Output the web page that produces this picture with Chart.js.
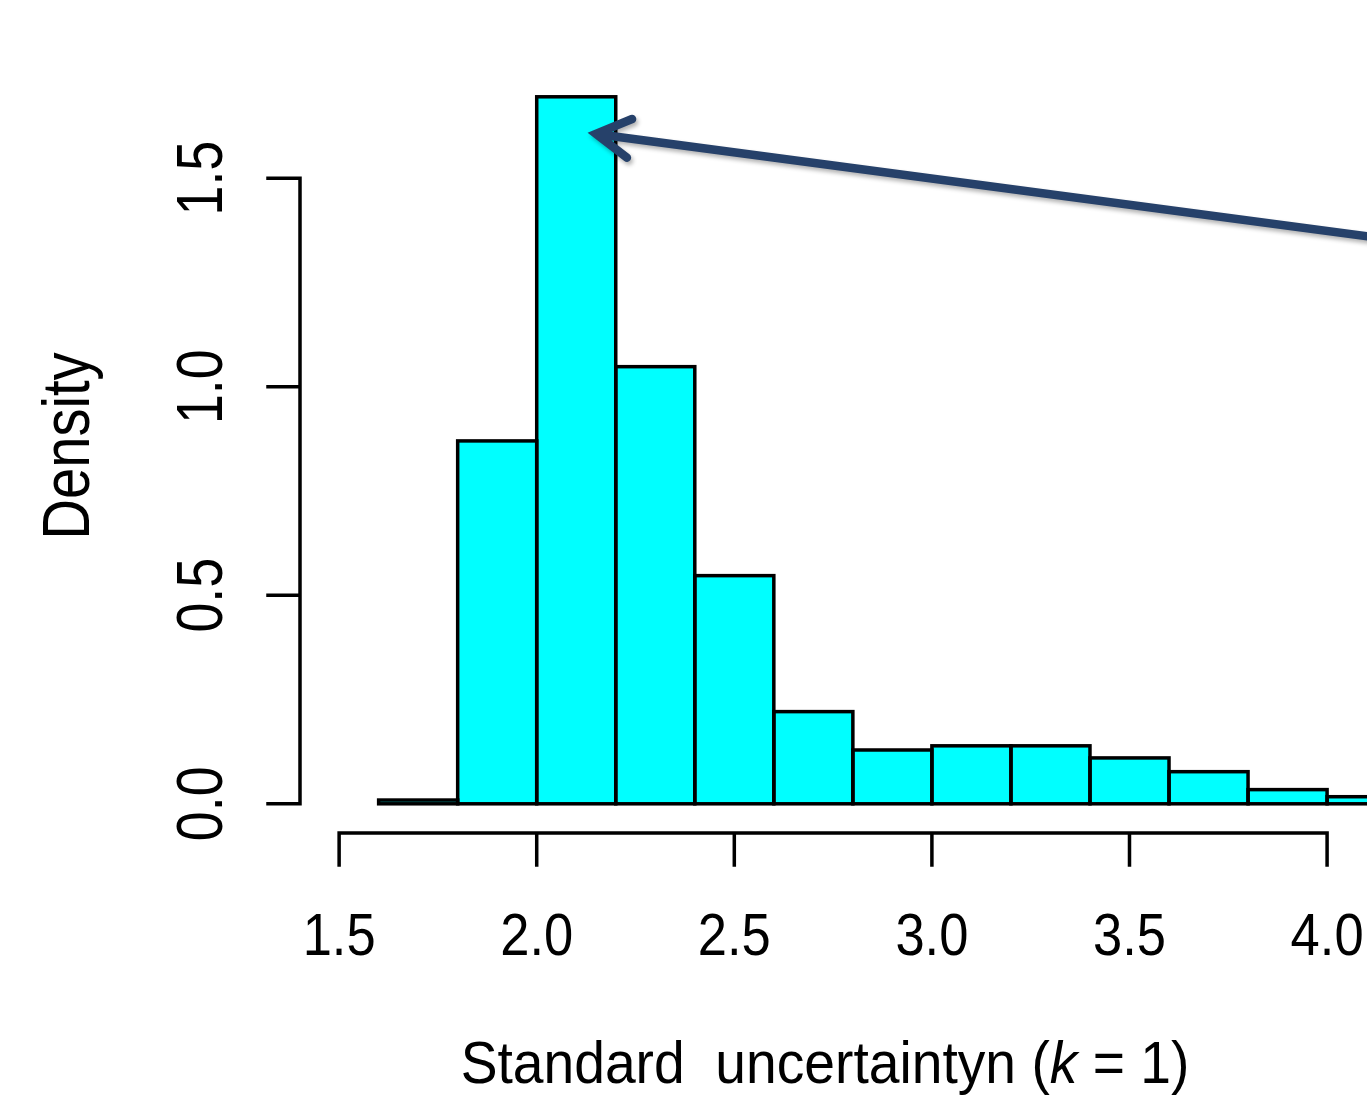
<!DOCTYPE html>
<html>
<head>
<meta charset="utf-8">
<title>Histogram</title>
<script src="https://cdn.jsdelivr.net/npm/chart.js@4.4.1/dist/chart.umd.min.js"></script>
<style>
  html, body { margin: 0; padding: 0; background: #fff; }
  canvas { display: block; }
</style>
</head>
<body>
<canvas id="myChart" width="1367" height="1100"></canvas>
<script>
// histogram break points and densities
var breaks = [1.6, 1.8, 2.0, 2.2, 2.4, 2.6, 2.8, 3.0, 3.2, 3.4, 3.6, 3.8, 4.0, 4.2];
var density = [0.009, 0.870, 1.695, 1.048, 0.547, 0.221, 0.129, 0.139, 0.139, 0.110, 0.077, 0.034, 0.017];

var xTicks = [1.5, 2.0, 2.5, 3.0, 3.5, 4.0];
var xTickLabels = ['1.5', '2.0', '2.5', '3.0', '3.5', '4.0'];
var yTicks = [0, 0.5, 1.0, 1.5];
var yTickLabels = ['0.0', '0.5', '1.0', '1.5'];

// x title pieces: normal, italic, normal
var xTitle = ['Standard  uncertaintyn (', 'k', ' = 1)'];
var yTitle = 'Density';

// arrow pointing at the tallest bar (data coordinates)
var arrowTail = [4.4, 1.323];
var arrowHead = [2.15, 1.606];

var bars = [];
for (var i = 0; i < density.length; i++) {
	bars.push({ x: (breaks[i] + breaks[i + 1]) / 2, y: density[i] });
}

var FONT = '"Liberation Sans", Arial, Helvetica, sans-serif';

// R style rectangle borders (centred strokes, shared edges)
var histOutline = {
	id: 'histOutline',
	afterDatasetsDraw: function(chart) {
		var ctx = chart.ctx;
		var meta = chart.getDatasetMeta(0);
		ctx.save();
		ctx.lineWidth = 3.5;
		ctx.strokeStyle = '#000';
		meta.data.forEach(function(el) {
			var p = el.getProps(['x', 'y', 'base', 'width'], true);
			ctx.strokeRect(p.x - p.width / 2, p.y, p.width, p.base - p.y);
		});
		ctx.restore();
	}
};

// axes, labels and the arrow, drawn the way R does it
var rAxes = {
	id: 'rAxes',
	afterDraw: function(chart) {
		var ctx = chart.ctx;
		var xs = chart.scales.x, ys = chart.scales.y;
		var area = chart.chartArea;
		ctx.save();
		ctx.strokeStyle = '#000';
		ctx.fillStyle = '#000';
		ctx.lineWidth = 3.5;
		ctx.lineCap = 'square';

		// x axis
		var ax = area.bottom;
		ctx.beginPath();
		ctx.moveTo(xs.getPixelForValue(xTicks[0]), ax);
		ctx.lineTo(xs.getPixelForValue(xTicks[xTicks.length - 1]), ax);
		xTicks.forEach(function(v) {
			var px = xs.getPixelForValue(v);
			ctx.moveTo(px, ax);
			ctx.lineTo(px, ax + 32);
		});
		ctx.stroke();

		ctx.font = '60px ' + FONT;
		ctx.textAlign = 'center';
		ctx.textBaseline = 'alphabetic';
		xTicks.forEach(function(v, i) {
			ctx.save();
			ctx.translate(xs.getPixelForValue(v), ax + 122);
			ctx.scale(0.875, 1);
			ctx.fillText(xTickLabels[i], 0, 0);
			ctx.restore();
		});

		// y axis
		var ay = area.left;
		ctx.beginPath();
		ctx.moveTo(ay, ys.getPixelForValue(yTicks[0]));
		ctx.lineTo(ay, ys.getPixelForValue(yTicks[yTicks.length - 1]));
		yTicks.forEach(function(v) {
			var py = ys.getPixelForValue(v);
			ctx.moveTo(ay, py);
			ctx.lineTo(ay - 32, py);
		});
		ctx.stroke();

		ctx.font = '64px ' + FONT;
		yTicks.forEach(function(v, i) {
			ctx.save();
			ctx.translate(ay - 78, ys.getPixelForValue(v));
			ctx.rotate(-Math.PI / 2);
			ctx.scale(0.84, 1);
			ctx.fillText(yTickLabels[i], 0, 0);
			ctx.restore();
		});

		// y title
		ctx.save();
		ctx.font = '66px ' + FONT;
		ctx.translate(89, 446);
		ctx.rotate(-Math.PI / 2);
		ctx.scale(0.85, 1);
		ctx.fillText(yTitle, 0, 0);
		ctx.restore();

		// x title with italic k
		ctx.save();
		ctx.translate(825, 1083);
		ctx.scale(0.92, 1);
		ctx.textAlign = 'left';
		var fonts = ['60px ' + FONT, 'italic 60px ' + FONT, '60px ' + FONT];
		var total = 0, widths = [];
		xTitle.forEach(function(s, i) {
			ctx.font = fonts[i];
			widths[i] = ctx.measureText(s).width;
			total += widths[i];
		});
		var cx = -total / 2;
		xTitle.forEach(function(s, i) {
			ctx.font = fonts[i];
			ctx.fillText(s, cx, 0);
			cx += widths[i];
		});
		ctx.restore();

		// arrow
		var hx = xs.getPixelForValue(arrowHead[0]), hy = ys.getPixelForValue(arrowHead[1]);
		var tx = xs.getPixelForValue(arrowTail[0]), ty = ys.getPixelForValue(arrowTail[1]);
		var ang = Math.atan2(ty - hy, tx - hx);
		var len = 39, spread = 30 * Math.PI / 180;
		ctx.strokeStyle = '#26416A';
		ctx.lineWidth = 8.5;
		ctx.lineCap = 'round';
		ctx.lineJoin = 'miter';
		ctx.shadowColor = 'rgba(0,0,0,0.3)';
		ctx.shadowBlur = 4;
		ctx.shadowOffsetX = 2;
		ctx.shadowOffsetY = 3;
		ctx.beginPath();
		ctx.moveTo(tx, ty);
		ctx.lineTo(hx, hy);
		ctx.moveTo(hx + len * Math.cos(ang - spread), hy + len * Math.sin(ang - spread));
		ctx.lineTo(hx, hy);
		ctx.lineTo(hx + len * Math.cos(ang + spread), hy + len * Math.sin(ang + spread));
		ctx.stroke();
		ctx.restore();
	}
};

var ctx = document.getElementById('myChart').getContext('2d');
var myChart = new Chart(ctx, {
	type: 'bar',
	data: {
		datasets: [
			{
				data: bars,
				backgroundColor: '#00FFFF',
				borderWidth: 0,
				barPercentage: 1,
				categoryPercentage: 1,
			},
		],
	},
	options: {
		responsive: false,
		animation: false,
		devicePixelRatio: 1,
		layout: { padding: { left: 300, right: 0, top: 53, bottom: 267 } },
		plugins: {
			legend: { display: false },
			tooltip: { enabled: false },
		},
		scales: {
			x: {
				type: 'linear',
				min: 1.401,
				max: 4.101,
				offset: false,
				display: false,
				ticks: { stepSize: 0.5, includeBounds: false },
			},
			y: { min: -0.07, max: 1.8, display: false },
		},
	},
	plugins: [histOutline, rAxes],
});
</script>
</body>
</html>
